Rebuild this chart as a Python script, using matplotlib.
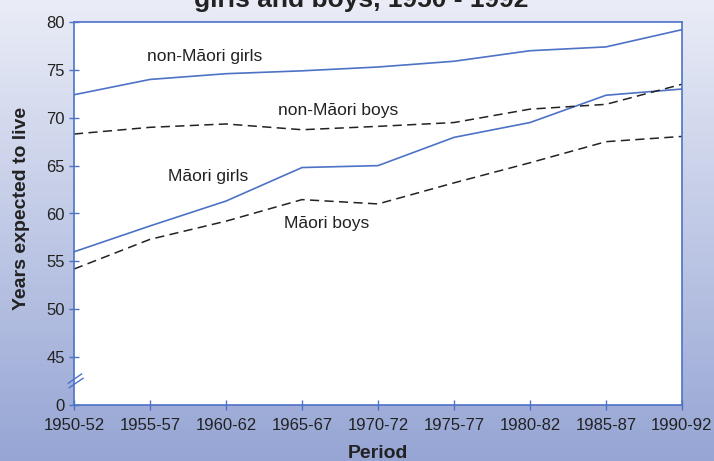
import matplotlib
matplotlib.use("Agg")
import matplotlib.pyplot as plt
import numpy as np

plt.rcParams['font.family'] = ['Liberation Sans', 'DejaVu Sans']

periods = ['1950-52', '1955-57', '1960-62', '1965-67', '1970-72',
           '1975-77', '1980-82', '1985-87', '1990-92']

# years expected to live
non_maori_girls = [72.4, 74.0, 74.6, 74.9, 75.3, 75.9, 77.0, 77.4, 79.2]
non_maori_boys = [68.3, 69.0, 69.35, 68.75, 69.1, 69.5, 70.9, 71.4, 73.5]
maori_girls = [56.0, 58.7, 61.3, 64.8, 65.0, 67.95, 69.5, 72.35, 73.0]
maori_boys = [54.2, 57.3, 59.2, 61.45, 61.0, 63.2, 65.3, 67.5, 68.05]

ytick_vals = [40, 45, 50, 55, 60, 65, 70, 75, 80]
ytick_labels = ['0', '45', '50', '55', '60', '65', '70', '75', '80']

W, H = 714, 461
fig = plt.figure(figsize=(W / 100, H / 100), dpi=100)

# background gradient
bg = fig.add_axes([0, 0, 1, 1], zorder=0)
top = np.array([234, 237, 247]) / 255.0
bot = np.array([150, 165, 212]) / 255.0
t = np.linspace(0, 1, 256)[:, None]
grad = top[None, :] * (1 - t) + bot[None, :] * t
bg.imshow(grad[:, None, :], aspect='auto', extent=[0, 1, 0, 1])
bg.set_axis_off()

left, right, ytop, ybot = 74, 682, 22, 405
ax = fig.add_axes([left / W, 1 - ybot / H, (right - left) / W, (ybot - ytop) / H], zorder=1)
ax.set_facecolor('white')

blue = '#4d72c6'
x = np.arange(len(periods))
ax.plot(x, non_maori_girls, color=blue, lw=1.2)
ax.plot(x, maori_girls, color=blue, lw=1.2)
ax.plot(x, non_maori_boys, color='#222222', lw=1.1, dashes=(6, 3.5))
ax.plot(x, maori_boys, color='#222222', lw=1.1, dashes=(6, 3.5))

ax.set_xlim(0, len(periods) - 1)
ax.set_ylim(40, 80)
ax.set_xticks(x)
ax.set_xticklabels(periods)
ax.set_yticks(ytick_vals)
ax.set_yticklabels(ytick_labels)
for s in ax.spines.values():
    s.set_color(blue)
    s.set_linewidth(1.2)
ax.tick_params(axis='both', colors=blue, labelcolor='#222222', labelsize=12,
               direction='inout', length=7, width=1)
ax.tick_params(axis='x', pad=6)
ax.tick_params(axis='y', pad=3)

# axis break marks
ax.plot([-0.0094, 0.0125], [0.0567, 0.081], transform=ax.transAxes, color=blue, lw=1, clip_on=False)
ax.plot([-0.0078, 0.0148], [0.0452, 0.0697], transform=ax.transAxes, color=blue, lw=1, clip_on=False)

tc = '#222222'
ax.text(1.72, 76.4, 'non-Māori girls', ha='center', va='center', fontsize=12.5, color=tc)
ax.text(3.47, 70.8, 'non-Māori boys', ha='center', va='center', fontsize=12.5, color=tc)
ax.text(1.76, 63.9, 'Māori girls', ha='center', va='center', fontsize=12.5, color=tc)
ax.text(3.33, 59.0, 'Māori boys', ha='center', va='center', fontsize=12.5, color=tc)

# title sits partly above the top edge, as in the original
fig.text(361 / W, 1 - 7.5 / H, 'girls and boys, 1950 - 1992', ha='center', va='baseline',
         fontsize=19, fontweight='bold', color=tc)
fig.text(21.5 / W, 1 - 208.5 / H, 'Years expected to live', ha='center', va='center',
         rotation=90, fontsize=14, fontweight='bold', color=tc)
fig.text(378 / W, 1 - 458 / H, 'Period', ha='center', va='baseline',
         fontsize=14, fontweight='bold', color=tc)

fig.savefig('out.png', dpi=100)
